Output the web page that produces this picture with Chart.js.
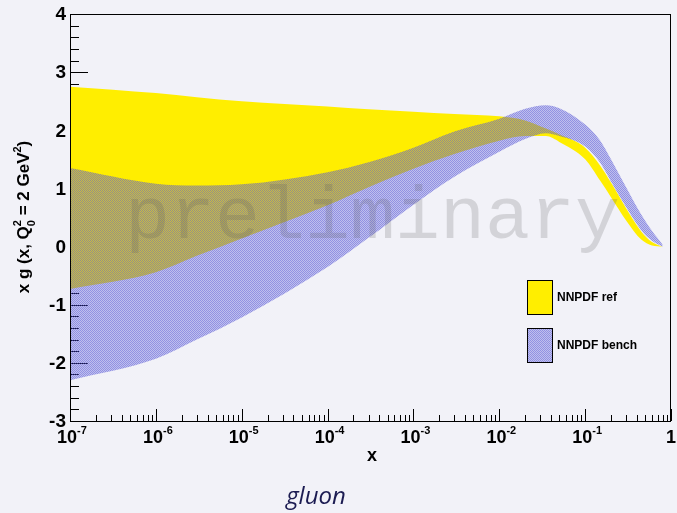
<!DOCTYPE html>
<html lang="en">
  <head>
    <meta charset="UTF-8" />
    <title>gluon</title>
    <script src="https://cdn.jsdelivr.net/npm/chart.js@4.4.1/dist/chart.umd.min.js"></script>
    <style>
      body {
        margin: 0;
        background: #f2f2f8;
        overflow: hidden;
      }
      #wrap {
        width: 677px;
        height: 513px;
      }
      canvas {
        display: block;
      }
    </style>
  </head>
  <body>
    <div id="wrap"><canvas id="gluonChart" width="677" height="513"></canvas></div>
    <script>
      // x grid and band edges
      const xValues = [1e-7, 1e-6, 3e-6, 1e-5, 1e-4, 3e-4, 1e-3, 3e-3, 1e-2, 0.02, 0.035, 0.05, 0.1, 0.15, 0.2, 0.3, 0.45, 0.6, 0.8];
      const refUpper = [2.75, 2.64, 2.57, 2.5, 2.41, 2.36, 2.32, 2.28, 2.24, 2.17, 2.03, 1.93, 1.7, 1.39, 1.1, 0.66, 0.26, 0.08, 0.0];
      const refLower = [-0.73, -0.44, -0.16, 0.14, 0.71, 1.02, 1.34, 1.59, 1.82, 1.9, 1.9, 1.8, 1.5, 1.13, 0.85, 0.45, 0.12, 0.02, 0.0];
      const benchUpper = [1.35, 1.08, 1.05, 1.07, 1.28, 1.45, 1.7, 1.98, 2.2, 2.37, 2.43, 2.38, 2.1, 1.82, 1.5, 1.02, 0.55, 0.27, 0.03];
      const benchLower = [-2.3, -1.93, -1.6, -1.22, -0.35, 0.15, 0.72, 1.2, 1.63, 1.85, 1.95, 1.9, 1.72, 1.44, 1.12, 0.68, 0.28, 0.1, 0.0];

      const yTicks = [-3, -2, -1, 0, 1, 2, 3, 4];
      const xDecades = [-7, -6, -5, -4, -3, -2, -1, 0];
      const seriesNames = ["NNPDF ref", "NNPDF bench"];

      const FONT = '"Liberation Sans", Arial, sans-serif';
      const YELLOW = "#ffee00";

      // soft checker hatch, close to the resampled ROOT fill style
      const patCanvas = document.createElement("canvas");
      patCanvas.width = 2;
      patCanvas.height = 2;
      const pctx = patCanvas.getContext("2d");
      pctx.fillStyle = "rgba(85, 85, 215, 0.62)";
      pctx.fillRect(0, 0, 1, 1);
      pctx.fillRect(1, 1, 1, 1);
      pctx.fillStyle = "rgba(85, 85, 215, 0.32)";
      pctx.fillRect(1, 0, 1, 1);
      pctx.fillRect(0, 1, 1, 1);
      const hatch = pctx.createPattern(patCanvas, "repeat");

      const toPoints = (arr) => xValues.map((x, i) => ({ x: x, y: arr[i] }));

      function band(values, fill, color) {
        return {
          data: toPoints(values),
          fill: fill,
          backgroundColor: color,
          borderWidth: 0,
          pointRadius: 0,
          cubicInterpolationMode: "monotone",
        };
      }

      function drawPowerLabel(ctx, exp, cx, y) {
        ctx.font = "bold 18px " + FONT;
        const wBase = ctx.measureText("10").width;
        ctx.font = "bold 11px " + FONT;
        const wExp = ctx.measureText(exp).width;
        const left = cx - (wBase + wExp) / 2;
        ctx.textAlign = "left";
        ctx.font = "bold 18px " + FONT;
        ctx.fillText("10", left, y);
        ctx.font = "bold 11px " + FONT;
        ctx.fillText(exp, left + wBase, y - 9);
      }

      const rootAxes = {
        id: "rootAxes",
        beforeDatasetsDraw(chart) {
          const { ctx, chartArea, scales } = chart;
          ctx.save();
          ctx.strokeStyle = "#000";
          ctx.lineWidth = 1;
          ctx.beginPath();
          // y ticks, 5 divisions per unit, drawn inward
          for (let i = 0; i <= 35; i++) {
            const v = -3 + i * 0.2;
            const py = Math.round(scales.y.getPixelForValue(v)) + 0.5;
            const len = i % 5 === 0 ? 18 : 9;
            ctx.moveTo(chartArea.left, py);
            ctx.lineTo(chartArea.left + len, py);
          }
          // x ticks
          xDecades.forEach((d) => {
            const px = Math.round(scales.x.getPixelForValue(Math.pow(10, d))) + 0.5;
            ctx.moveTo(px, chartArea.bottom);
            ctx.lineTo(px, chartArea.bottom - 12);
            if (d < 0) {
              for (let m = 2; m <= 9; m++) {
                const mx = Math.round(scales.x.getPixelForValue(m * Math.pow(10, d))) + 0.5;
                ctx.moveTo(mx, chartArea.bottom);
                ctx.lineTo(mx, chartArea.bottom - 6);
              }
            }
          });
          ctx.stroke();
          ctx.restore();
        },
        afterDatasetsDraw(chart) {
          const { ctx, chartArea, scales } = chart;
          ctx.save();

          // frame
          ctx.strokeStyle = "#000";
          ctx.lineWidth = 1;
          ctx.strokeRect(chartArea.left + 0.5, chartArea.top + 0.5, chartArea.right - chartArea.left - 1, chartArea.bottom - chartArea.top);

          // watermark
          ctx.font = '75px "Liberation Mono", monospace';
          ctx.fillStyle = "rgba(90, 90, 90, 0.2)";
          ctx.textAlign = "left";
          ctx.textBaseline = "alphabetic";
          ctx.fillText("preliminary", 125, 238);

          // y tick labels
          ctx.fillStyle = "#000";
          ctx.font = "bold 19px " + FONT;
          ctx.textAlign = "right";
          ctx.textBaseline = "middle";
          yTicks.forEach((v) => {
            ctx.fillText(String(v), chartArea.left - 4, scales.y.getPixelForValue(v) + 1);
          });

          // x tick labels
          ctx.textBaseline = "alphabetic";
          xDecades.forEach((d) => {
            const px = scales.x.getPixelForValue(Math.pow(10, d));
            if (d === 0) {
              ctx.textAlign = "center";
              ctx.font = "bold 18px " + FONT;
              ctx.fillText("1", px, 443);
            } else {
              drawPowerLabel(ctx, String(d), px + 2, 443);
            }
          });

          // x title
          ctx.textAlign = "center";
          ctx.font = "bold 18px " + FONT;
          ctx.fillText("x", 372, 461);

          // y title with Q0^2 and GeV^2
          ctx.save();
          ctx.translate(29, 217);
          ctx.rotate(-Math.PI / 2);
          const big = "bold 17px " + FONT;
          const small = "bold 11px " + FONT;
          const parts = [
            ["x g (x, Q", big, 0],
            ["2", small, -8],
            [" = 2 GeV", big, 0],
            ["2", small, -8],
            [")", big, 0],
          ];
          let total = 0;
          const widths = parts.map((p) => {
            ctx.font = p[1];
            const w = ctx.measureText(p[0]).width;
            total += w;
            return w;
          });
          let cursor = -total / 2;
          ctx.textAlign = "left";
          parts.forEach((p, i) => {
            ctx.font = p[1];
            ctx.fillText(p[0], cursor, p[2]);
            if (i === 1) ctx.fillText("0", cursor, 6);
            cursor += widths[i];
          });
          ctx.restore();

          // legend
          const boxes = [
            [seriesNames[0], YELLOW, 280],
            [seriesNames[1], hatch, 328],
          ];
          boxes.forEach((b) => {
            ctx.fillStyle = b[1];
            ctx.fillRect(527, b[2], 25, 34);
            ctx.strokeStyle = "#000";
            ctx.strokeRect(527.5, b[2] + 0.5, 25, 34);
            ctx.fillStyle = "#000";
            ctx.font = "bold 12px " + FONT;
            ctx.textAlign = "left";
            ctx.textBaseline = "middle";
            ctx.fillText(b[0], 557, b[2] + 18);
          });

          // slide caption
          ctx.fillStyle = "#1c1c52";
          ctx.font = 'italic 24px "Open Sans", "DejaVu Sans", sans-serif';
          ctx.textAlign = "center";
          ctx.textBaseline = "alphabetic";
          ctx.fillText("gluon", 316, 504);

          ctx.restore();
        },
      };

      const ctx = document.getElementById("gluonChart").getContext("2d");
      new Chart(ctx, {
        type: "line",
        data: {
          datasets: [
            band(benchUpper, "+1", hatch),
            band(benchLower, false, "rgba(0,0,0,0)"),
            band(refUpper, "+1", YELLOW),
            band(refLower, false, "rgba(0,0,0,0)"),
          ],
        },
        options: {
          responsive: false,
          animation: false,
          layout: { padding: { left: 70, top: 14, right: 6, bottom: 92 } },
          scales: {
            x: { type: "logarithmic", min: 1e-7, max: 1, display: false },
            y: { min: -3, max: 4, display: false },
          },
          plugins: {
            legend: { display: false },
            tooltip: { enabled: false },
          },
        },
        plugins: [rootAxes],
      });
    </script>
  </body>
</html>
